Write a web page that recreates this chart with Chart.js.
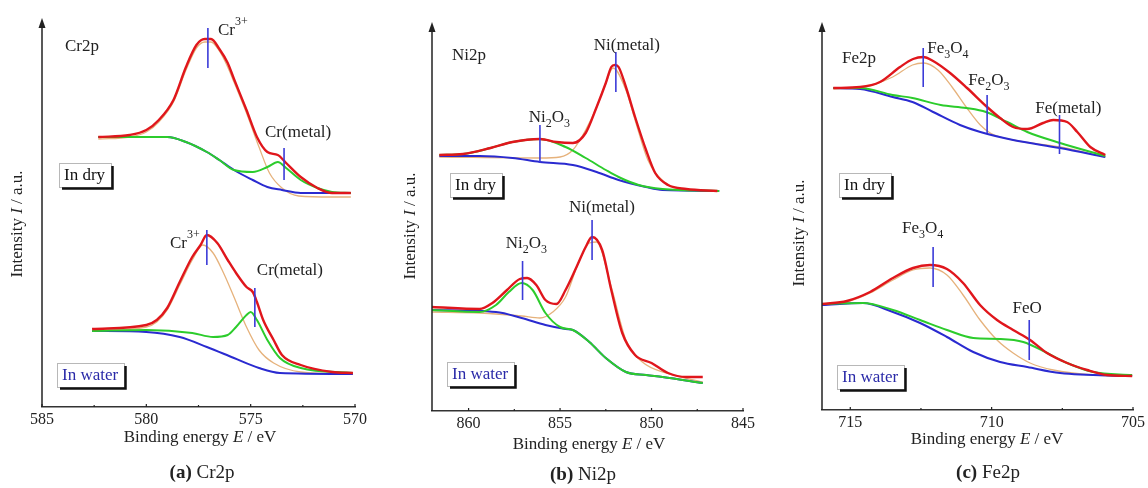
<!DOCTYPE html>
<html>
<head>
<meta charset="utf-8">
<title>XPS spectra</title>
<script src="https://cdn.jsdelivr.net/npm/chart.js@4.4.1/dist/chart.umd.min.js"></script>
<style>
  body { margin: 0; background: #fff; overflow: hidden; }
  #fig { position: relative; width: 1148px; height: 488px; background: #fff; }
  #fig canvas { position: absolute; top: 0; }
</style>
</head>
<body>
<div id="fig">
  <canvas id="crChart" width="380" height="488" style="left:0"></canvas>
  <canvas id="niChart" width="380" height="488" style="left:380px"></canvas>
  <canvas id="feChart" width="388" height="488" style="left:760px"></canvas>
</div>
<script>
// ---- Cr2p: [binding energy eV, intensity a.u.] ----
const crTicks = [585, 580, 575, 570];
const crMinorTicks = [582.5, 577.5, 572.5];
const crDryTotal = [[582.3,270],[580.8,272],[580.0,277],[579.4,287],[578.7,307],[578.1,340],[577.6,362],[577.2,368],[576.9,368],[576.5,358],[576.1,344],[575.8,328],[575.2,297],[574.7,270],[574.2,255],[573.7,252],[573.3,244],[572.6,230],[571.8,219],[571.1,214],[570.2,214]];
const crDryCr3 = [[582.3,268],[580.8,270],[580.0,275],[579.4,285],[578.7,305],[578.1,337],[577.6,359],[577.2,365],[576.9,365],[576.5,356],[576.1,340],[575.8,325],[575.2,294],[574.6,260],[574.1,234],[573.5,219],[572.7,211],[571.1,210],[570.2,210]];
const crDryMetal = [[582.3,270],[579.0,270],[578.1,265],[577.1,255],[576.5,247],[575.8,237],[574.9,235],[574.2,240],[573.7,245],[573.3,239],[572.6,227],[571.8,219],[571.1,215],[570.2,214]];
const crDryBg = [[582.3,270],[579.0,270],[578.1,265],[577.1,255],[576.5,247],[575.8,237],[574.9,227],[574.2,220],[573.5,217],[572.6,214],[570.2,214]];
const crDryPeaks = [[577.05,339,379],[573.4,227,259]];
const crWaterTotal = [[582.6,78],[580.0,82],[579.5,87],[579.0,99],[578.4,125],[577.8,150],[577.4,162],[577.1,172],[576.6,164],[576.1,147],[575.7,134],[575.2,120],[574.9,115],[574.7,105],[574.4,87],[573.9,67],[573.5,52],[572.6,42],[571.1,35],[570.1,34]];
const crWaterCr3 = [[582.6,76],[580.0,80],[579.5,85],[579.0,97],[578.4,122],[577.8,147],[577.3,162],[576.8,154],[576.3,134],[575.8,110],[575.2,80],[574.6,57],[573.9,44],[572.6,35],[570.1,33]];
const crWaterMetal = [[582.6,76],[580.0,77],[577.8,74],[576.8,70],[576.1,72],[575.7,80],[575.2,92],[575.0,95],[574.7,87],[574.2,67],[573.6,49],[572.6,39],[570.1,34]];
const crWaterBg = [[582.6,76],[580.0,75],[578.4,70],[577.1,60],[575.8,49],[574.6,39],[573.6,34],[570.1,33]];
const crWaterPeaks = [[577.1,142,177],[574.8,80,119]];

// ---- Ni2p ----
const niTicks = [860, 855, 850, 845];
const niMinorTicks = [857.5, 852.5, 847.5];
const niDryTotal = [[861.6,256],[860.3,257],[858.8,263],[857.6,269],[856.1,272],[855.2,269],[854.3,268],[853.6,278],[853.0,304],[852.5,328],[852.2,344],[852.0,346],[851.8,344],[851.4,324],[850.9,294],[850.3,261],[849.8,238],[849.1,226],[848.1,222],[846.4,220]];
const niDryMetal = [[861.6,254],[856.1,253],[855.0,254],[854.3,261],[853.6,281],[853.0,304],[852.5,328],[852.1,343],[851.4,321],[850.9,291],[850.2,251],[849.3,229],[848.0,221],[846.3,220]];
const niDryOxide = [[861.6,256],[860.3,257],[858.8,263],[857.6,269],[856.1,272],[854.7,264],[853.6,253],[852.5,241],[851.8,234],[850.7,226],[849.4,222],[846.3,220]];
const niDryBg = [[861.6,255],[859.4,255],[857.6,253],[856.1,249],[854.3,246],[853.0,239],[851.8,231],[850.3,224],[849.4,221],[846.3,220]];
const niDryPeaks = [[856.1,248,286],[851.95,319,359]];
const niWaterTotal = [[862.0,104],[859.4,102],[858.7,108],[857.9,121],[857.2,132],[856.8,133],[856.3,126],[855.8,111],[855.2,107],[854.7,121],[854.1,144],[853.6,164],[853.25,174],[852.7,161],[852.2,121],[851.6,78],[850.9,56],[850.0,48],[849.1,38],[848.1,34],[847.2,34]];
const niWaterMetal = [[862.0,99],[859.4,98],[857.1,95],[856.1,93],[855.4,99],[854.7,114],[854.0,148],[853.4,168],[853.0,169],[852.2,124],[851.4,71],[850.5,49],[849.2,38],[847.2,29]];
const niWaterOxide = [[862.0,101],[859.4,99],[858.5,106],[857.8,119],[857.1,128],[856.5,121],[855.8,98],[855.0,84],[854.3,81],[853.4,69],[852.5,53],[851.4,39],[850.3,36],[849.4,34],[847.2,28]];
const niWaterBg = [[862.0,101],[858.5,99],[857.1,93],[855.8,86],[854.7,82],[854.3,81],[853.4,69],[852.5,53],[851.4,39],[850.3,36],[849.4,34],[847.2,28]];
const niWaterPeaks = [[857.05,111,150],[853.25,151,191]];

// ---- Fe2p ----
const feTicks = [715, 710, 705];
const feMinorTicks = [712.5, 707.5];
const feDryTotal = [[715.6,322],[714.65,323],[713.95,328],[713.24,343],[712.78,351],[712.42,353],[712.07,349],[711.47,337],[710.87,322],[710.16,303],[709.7,292],[709.24,283],[708.74,281],[708.18,287],[707.82,290],[707.33,288],[706.97,278],[706.51,263],[705.98,255]];
const feDryFe3O4 = [[715.6,321],[714.65,322],[713.5,333],[712.8,345],[712.4,347],[711.9,340],[711.4,323],[710.9,303],[710.4,285],[710.05,277],[709.24,270],[707.58,263],[705.98,253]];
const feDryFe2O3 = [[715.6,322],[714.65,322],[713.5,315],[712.8,312],[711.8,305],[710.9,302],[710.2,298],[709.45,288],[708.74,278],[707.58,267],[705.98,254]];
const feDryBg = [[715.6,322],[714.65,321],[713.5,313],[712.8,308],[712.07,298],[711.12,285],[710.4,278],[709.24,270],[707.58,262],[705.98,253]];
const feDryPeaks = [[712.42,323,362],[710.16,277,315],[707.6,256,295]];
const feWaterTotal = [[716.0,106],[715.12,109],[714.3,118],[713.49,132],[712.78,142],[712.18,145],[711.58,141],[711.01,127],[710.41,105],[709.81,90],[709.24,80],[708.64,70],[708.04,57],[707.33,47],[706.62,40],[705.91,35],[705.03,34]];
const feWaterFe3O4 = [[716.0,105],[715.12,108],[714.3,117],[713.49,130],[712.78,140],[712.18,142],[711.58,135],[711.01,115],[710.41,90],[709.81,70],[709.24,57],[708.64,47],[707.82,40],[706.41,35],[705.03,34]];
const feWaterFeO = [[716.0,106],[714.55,107],[713.49,100],[712.53,90],[711.58,80],[710.65,72],[709.7,71],[708.88,68],[708.04,57],[707.33,47],[706.41,38],[705.03,35]];
const feWaterBg = [[716.0,105],[714.55,107],[713.49,98],[712.53,87],[711.58,73],[710.65,58],[709.7,48],[708.74,43],[707.58,37],[705.03,34]];
const feWaterPeaks = [[712.07,123,163],[708.67,50,90]];

const SERIF = '"Liberation Serif", "Times New Roman", "DejaVu Serif", serif';
const COLORS = {
    total: '#e0161c',
    main: '#e6b27c',
    second: '#2ccc2c',
    background: '#2a2ad0',
    marker: '#3b3bd8'
};
Chart.defaults.font.family = SERIF;

const fontFor = (kind, size) => {
    if (kind === 'sub' || kind === 'sup') return `${Math.round(size * 0.72)}px ${SERIF}`;
    if (kind === 'italic') return `italic ${size}px ${SERIF}`;
    if (kind === 'bold') return `bold ${size}px ${SERIF}`;
    return `${size}px ${SERIF}`;
};

// text made of runs: plain, italic, bold, sub, sup
const drawRich = (ctx, parts, x, y, size, align) => {
    const widths = parts.map(([text, kind]) => {
        ctx.font = fontFor(kind, size);
        return ctx.measureText(text).width;
    });
    const total = widths.reduce((a, b) => a + b, 0);
    let cx = align === 'center' ? x - total / 2 : x;
    ctx.textAlign = 'left';
    parts.forEach(([text, kind], i) => {
        ctx.font = fontFor(kind, size);
        const dy = kind === 'sub' ? size * 0.3 : kind === 'sup' ? -size * 0.6 : 0;
        ctx.fillText(text, cx, y + dy);
        cx += widths[i];
    });
};

const curve = (points, color, width) => ({
    data: points.map(([x, y]) => ({ x, y })),
    borderColor: color,
    borderWidth: width,
    pointRadius: 0,
    fill: false,
    cubicInterpolationMode: 'monotone'
});

const peakLine = ([e, lo, hi]) => ({
    data: [{ x: e, y: lo }, { x: e, y: hi }],
    borderColor: COLORS.marker,
    borderWidth: 1.6,
    pointRadius: 0,
    tension: 0
});

const decorPlugin = (panel) => ({
    id: 'decor',
    afterDraw(chart) {
        const { ctx, chartArea: area, scales: { x, y } } = chart;
        const px = (e) => x.getPixelForValue(e);
        const py = (i) => y.getPixelForValue(i);
        ctx.save();

        // vertical axis with arrow head
        ctx.strokeStyle = '#222';
        ctx.fillStyle = '#222';
        ctx.lineWidth = 1.5;
        ctx.beginPath();
        ctx.moveTo(area.left, area.bottom);
        ctx.lineTo(area.left, area.top + 6);
        ctx.stroke();
        ctx.beginPath();
        ctx.moveTo(area.left, area.top);
        ctx.lineTo(area.left - 3.5, area.top + 10);
        ctx.lineTo(area.left + 3.5, area.top + 10);
        ctx.closePath();
        ctx.fill();

        // small inward ticks on the energy axis
        ctx.lineWidth = 1.2;
        ctx.beginPath();
        panel.ticks.forEach(v => { ctx.moveTo(px(v), area.bottom); ctx.lineTo(px(v), area.bottom - 3); });
        panel.minorTicks.forEach(v => { ctx.moveTo(px(v), area.bottom); ctx.lineTo(px(v), area.bottom - 2); });
        ctx.stroke();

        // peak names
        ctx.fillStyle = '#222';
        ctx.textBaseline = 'alphabetic';
        panel.labels.forEach(l => drawRich(ctx, l.parts, px(l.at[0]), py(l.at[1]), 17, l.align));

        // sample condition boxes
        panel.boxes.forEach(b => {
            const bx = Math.round(px(b.at[0])), by = Math.round(py(b.at[1]));
            ctx.font = `17px ${SERIF}`;
            const w = Math.round(ctx.measureText(b.text).width) + 11, h = 24;
            ctx.fillStyle = '#fff';
            ctx.fillRect(bx, by, w, h);
            ctx.strokeStyle = '#b8b8b8';
            ctx.lineWidth = 1;
            ctx.strokeRect(bx + 0.5, by + 0.5, w, h);
            ctx.strokeStyle = '#111';
            ctx.lineWidth = 2.5;
            ctx.beginPath();
            ctx.moveTo(bx + w + 1.5, by + 3);
            ctx.lineTo(bx + w + 1.5, by + h + 1.5);
            ctx.lineTo(bx + 3, by + h + 1.5);
            ctx.stroke();
            ctx.fillStyle = b.color;
            ctx.textAlign = 'left';
            ctx.textBaseline = 'middle';
            ctx.fillText(b.text, bx + 5, by + h / 2 + 1);
        });

        // axis titles and panel caption
        ctx.fillStyle = '#222';
        ctx.textBaseline = 'middle';
        drawRich(ctx, [['Binding energy '], ['E', 'italic'], [' / eV']], panel.xTitle[0], panel.xTitle[1], 17, 'center');
        drawRich(ctx, panel.caption, panel.captionAt[0], panel.captionAt[1], 19, 'center');
        ctx.translate(panel.yTitle[0], panel.yTitle[1]);
        ctx.rotate(-Math.PI / 2);
        drawRich(ctx, [['Intensity '], ['I', 'italic'], [' / a.u.']], 0, 0, 17, 'center');
        ctx.restore();
    }
});

const createSpectrumChart = (canvasId, panel) => {
    const el = document.getElementById(canvasId);
    if (!el) return null;

    // first dataset is drawn on top
    const datasets = [
        ...panel.peaks.map(peakLine),
        ...panel.spectra.map(s => curve(s.total, COLORS.total, 2.4)),
        ...panel.spectra.map(s => curve(s.second, COLORS.second, 2)),
        ...panel.spectra.map(s => curve(s.background, COLORS.background, 2)),
        ...panel.spectra.map(s => curve(s.main, COLORS.main, 1.3))
    ];

    return new Chart(el, {
        type: 'line',
        data: { datasets },
        options: {
            responsive: false,
            animation: false,
            devicePixelRatio: 1,
            layout: { padding: panel.padding },
            plugins: { legend: { display: false }, tooltip: { enabled: false } },
            scales: {
                x: {
                    type: 'linear',
                    reverse: true,
                    min: panel.range[0],
                    max: panel.range[1],
                    afterBuildTicks: s => { s.ticks = panel.ticks.map(v => ({ value: v })); },
                    afterFit: s => { s.height = 30; },
                    grid: { display: false, drawTicks: false },
                    border: { display: true, color: '#333', width: 1.5 },
                    ticks: { padding: 3, maxRotation: 0, autoSkip: false, color: '#222', font: { family: SERIF, size: 16 } }
                },
                y: { display: false, min: 0, max: panel.yMax }
            }
        },
        plugins: [decorPlugin(panel)]
    });
};

createSpectrumChart('crChart', {
    range: [570, 585],
    ticks: crTicks,
    minorTicks: crMinorTicks,
    yMax: 389,
    padding: { left: 42, right: 25, top: 18, bottom: 51 },
    spectra: [
        { total: crDryTotal, main: crDryCr3, second: crDryMetal, background: crDryBg },
        { total: crWaterTotal, main: crWaterCr3, second: crWaterMetal, background: crWaterBg }
    ],
    peaks: [...crDryPeaks, ...crWaterPeaks],
    labels: [
        { at: [583.9, 356], parts: [['Cr2p']], align: 'left' },
        { at: [576.57, 372], parts: [['Cr'], ['3+', 'sup']], align: 'left' },
        { at: [572.73, 270], parts: [['Cr(metal)']], align: 'center' },
        { at: [578.87, 159], parts: [['Cr'], ['3+', 'sup']], align: 'left' },
        { at: [573.12, 132], parts: [['Cr(metal)']], align: 'center' }
    ],
    boxes: [
        { at: [584.19, 244], text: 'In dry', color: '#111' },
        { at: [584.28, 44], text: 'In water', color: '#2a2aa8' }
    ],
    xTitle: [200, 438],
    yTitle: [18, 224],
    caption: [['(a)', 'bold'], [' Cr2p']],
    captionAt: [202, 473]
});

createSpectrumChart('niChart', {
    range: [845, 862],
    ticks: niTicks,
    minorTicks: niMinorTicks,
    yMax: 389,
    padding: { left: 52, right: 17, top: 22, bottom: 47 },
    spectra: [
        { total: niDryTotal, main: niDryMetal, second: niDryOxide, background: niDryBg },
        { total: niWaterTotal, main: niWaterMetal, second: niWaterOxide, background: niWaterBg }
    ],
    peaks: [...niDryPeaks, ...niWaterPeaks],
    labels: [
        { at: [860.91, 351], parts: [['Ni2p']], align: 'left' },
        { at: [855.59, 289], parts: [['Ni'], ['2', 'sub'], ['O'], ['3', 'sub']], align: 'center' },
        { at: [851.35, 361], parts: [['Ni(metal)']], align: 'center' },
        { at: [856.84, 163], parts: [['Ni'], ['2', 'sub'], ['O'], ['3', 'sub']], align: 'center' },
        { at: [852.71, 199], parts: [['Ni(metal)']], align: 'center' }
    ],
    boxes: [
        { at: [861.02, 238], text: 'In dry', color: '#111' },
        { at: [861.18, 49], text: 'In water', color: '#2a2aa8' }
    ],
    xTitle: [209, 445],
    yTitle: [31, 226],
    caption: [['(b)', 'bold'], [' Ni2p']],
    captionAt: [203, 475]
});

createSpectrumChart('feChart', {
    range: [705, 716],
    ticks: feTicks,
    minorTicks: feMinorTicks,
    yMax: 388,
    padding: { left: 62, right: 15, top: 22, bottom: 48 },
    spectra: [
        { total: feDryTotal, main: feDryFe3O4, second: feDryFe2O3, background: feDryBg },
        { total: feWaterTotal, main: feWaterFe3O4, second: feWaterFeO, background: feWaterBg }
    ],
    peaks: [...feDryPeaks, ...feWaterPeaks],
    labels: [
        { at: [715.29, 347], parts: [['Fe2p']], align: 'left' },
        { at: [712.28, 357], parts: [['Fe'], ['3', 'sub'], ['O'], ['4', 'sub']], align: 'left' },
        { at: [710.83, 325], parts: [['Fe'], ['2', 'sub'], ['O'], ['3', 'sub']], align: 'left' },
        { at: [707.29, 297], parts: [['Fe(metal)']], align: 'center' },
        { at: [713.17, 177], parts: [['Fe'], ['3', 'sub'], ['O'], ['4', 'sub']], align: 'left' },
        { at: [708.74, 97], parts: [['FeO']], align: 'center' }
    ],
    boxes: [
        { at: [715.40, 237], text: 'In dry', color: '#111' },
        { at: [715.47, 45], text: 'In water', color: '#2a2aa8' }
    ],
    xTitle: [227, 440],
    yTitle: [40, 233],
    caption: [['(c)', 'bold'], [' Fe2p']],
    captionAt: [228, 473]
});
</script>
</body>
</html>
